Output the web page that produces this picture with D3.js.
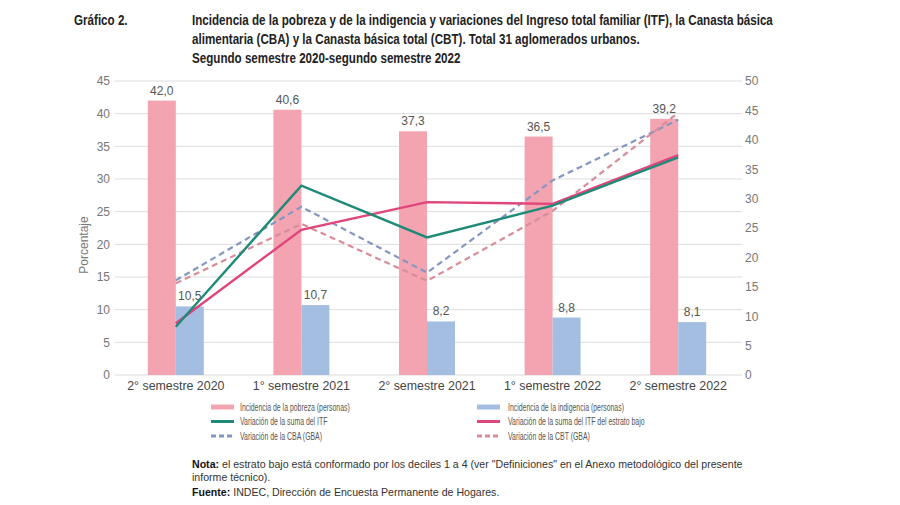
<!DOCTYPE html>
<html><head><meta charset="utf-8">
<script src="https://cdn.jsdelivr.net/npm/d3@7"></script>
<style>
body{margin:0;background:#fff;}
svg{display:block;}
</style></head>
<body>
<svg id="c" width="900" height="505"></svg>
<script>
const categories = ["2° semestre 2020","1° semestre 2021","2° semestre 2021","1° semestre 2022","2° semestre 2022"];
const pobreza = [42.0, 40.6, 37.3, 36.5, 39.2];
const indigencia = [10.5, 10.7, 8.2, 8.8, 8.1];
const varITF = [8.2, 32.2, 23.4, 28.8, 37.0];
const varITFbajo = [8.8, 24.7, 29.4, 29.1, 37.4];
const varCBA = [16.1, 28.6, 17.4, 33.1, 43.4];
const varCBT = [15.6, 25.7, 16.0, 27.9, 44.6];
const leftTicks = [0,5,10,15,20,25,30,35,40,45];
const rightTicks = [0,5,10,15,20,25,30,35,40,45,50];

const svg = d3.select("#c");
const fmt = v => v.toFixed(1).replace(".", ",");

const x = d3.scaleBand().domain(categories).range([113, 741]).padding(0);
const yL = d3.scaleLinear().domain([0,45]).range([375,81]);
const yR = d3.scaleLinear().domain([0,50]).range([375,81]);
const sub = d3.scaleBand().domain(["p","i"]).range([-28,28]);
const cx = c => x(c) + x.bandwidth()/2;

const sans = "'Liberation Sans',Arial,sans-serif";

// squeeze text horizontally so it spans a given width
function squeezed(parent, x0, y0, k) {
  return parent.append("text").attr("x",0).attr("y",0)
    .attr("transform", `translate(${x0},${y0}) scale(${k},1)`);
}

// Title
const title = svg.append("g").attr("font-family", sans).attr("font-weight","bold").attr("fill","#222").attr("font-size", 14);
const tl = ["Incidencia de la pobreza y de la indigencia y variaciones del Ingreso total familiar (ITF), la Canasta básica",
            "alimentaria (CBA) y la Canasta básica total (CBT). Total 31 aglomerados urbanos.",
            "Segundo semestre 2020-segundo semestre 2022"];
const t1 = title.append("text").attr("x",0).attr("y",0).text(tl[0]);
const kT = 581 / t1.node().getComputedTextLength();
t1.remove();
squeezed(title, 74, 25, kT).text("Gráfico 2.");
tl.forEach((t,i)=>squeezed(title, 192, 25+i*19, kT).text(t));

// Gridlines
svg.append("g").selectAll("line").data(leftTicks).join("line")
  .attr("x1",115).attr("x2",742).attr("y1",d=>yL(d)).attr("y2",d=>yL(d))
  .attr("stroke","#dcdcdc").attr("stroke-width",1);

// Left axis
const la = svg.append("g").attr("transform","translate(110,0)")
  .call(d3.axisLeft(yL).tickValues(leftTicks).tickSize(0).tickPadding(0));
la.select(".domain").remove();
la.selectAll("text").attr("font-family",sans).attr("font-size",12).attr("fill","#777");

// Right axis
const ra = svg.append("g").attr("transform","translate(745,0)")
  .call(d3.axisRight(yR).tickValues(rightTicks).tickSize(0).tickPadding(0));
ra.select(".domain").remove();
ra.selectAll("text").attr("font-family",sans).attr("font-size",12).attr("fill","#777");

svg.append("text").attr("transform","translate(88,245) rotate(-90)")
  .attr("text-anchor","middle").attr("font-family",sans).attr("font-size",12).attr("fill","#777").text("Porcentaje");

// Bars
const bars = svg.append("g");
bars.selectAll(".bp").data(categories).join("rect")
  .attr("x",(c)=>cx(c)+sub("p")).attr("width",sub.bandwidth())
  .attr("y",(c,i)=>yL(pobreza[i])).attr("height",(c,i)=>yL(0)-yL(pobreza[i]))
  .attr("fill","#f3a4b0");
bars.selectAll(".bi").data(categories).join("rect").attr("class","bi")
  .attr("x",(c)=>cx(c)+sub("i")).attr("width",sub.bandwidth())
  .attr("y",(c,i)=>yL(indigencia[i])).attr("height",(c,i)=>yL(0)-yL(indigencia[i]))
  .attr("fill","#a4bee2");

// Bar labels
const lab = svg.append("g").attr("font-family",sans).attr("font-size",12).attr("fill","#555").attr("text-anchor","middle");
categories.forEach((c,i)=>{
  lab.append("text").attr("x",cx(c)+sub("p")+sub.bandwidth()/2).attr("y",yL(pobreza[i])-6).text(fmt(pobreza[i]));
  lab.append("text").attr("x",cx(c)+sub("i")+sub.bandwidth()/2).attr("y",yL(indigencia[i])-6).text(fmt(indigencia[i]));
});

// Lines
const line = d3.line().x((d,i)=>cx(categories[i])).y(d=>yR(d));
const series = [
  {v:varCBA, c:"#8597bf", dash:"6,4", w:2.2},
  {v:varCBT, c:"#d98c9a", dash:"6,4", w:2.2},
  {v:varITFbajo, c:"#e0457b", dash:null, w:2.4},
  {v:varITF, c:"#1f8a78", dash:null, w:2.4},
];
series.forEach(s=>{
  svg.append("path").datum(s.v).attr("d",line).attr("fill","none")
    .attr("stroke",s.c).attr("stroke-width",s.w).attr("stroke-dasharray",s.dash);
});

// X labels
svg.append("g").selectAll("text").data(categories).join("text")
  .attr("x",c=>cx(c)).attr("y",390).attr("text-anchor","middle")
  .attr("font-family",sans).attr("font-size",12.4).attr("fill","#444").text(c=>c);

// Legend
const legend = [
  {t:"Incidencia de la pobreza (personas)", c:"#f3a4b0", w:5, dash:null, col:0, row:0},
  {t:"Incidencia de la indigencia (personas)", c:"#a4bee2", w:5, dash:null, col:1, row:0},
  {t:"Variación de la suma del ITF", c:"#1f8a78", w:3, dash:null, col:0, row:1},
  {t:"Variación de la suma del ITF del estrato bajo", c:"#e0457b", w:3, dash:null, col:1, row:1},
  {t:"Variación de la CBA (GBA)", c:"#8597bf", w:3, dash:"5,3", col:0, row:2},
  {t:"Variación de la CBT (GBA)", c:"#d98c9a", w:3, dash:"5,3", col:1, row:2},
];
const lg = svg.append("g").attr("font-family",sans).attr("font-size",10.5).attr("fill","#555");
const probe = lg.append("text").text(legend[0].t);
const kL = 110 / probe.node().getComputedTextLength();
probe.remove();
legend.forEach(d=>{
  const x0 = d.col===0 ? 211 : 477;
  const yy = 407 + d.row*14.5;
  lg.append("line").attr("x1",x0).attr("x2",x0+23).attr("y1",yy).attr("y2",yy)
    .attr("stroke",d.c).attr("stroke-width",d.w).attr("stroke-dasharray",d.dash);
  squeezed(lg, x0 + (d.col===0?29:31), yy+3.5, kL).text(d.t);
});

// Notes
const notes = svg.append("g").attr("font-family",sans).attr("font-size",10.6).attr("fill","#333");
const n1 = notes.append("text").attr("x",192).attr("y",468);
n1.append("tspan").attr("font-weight","bold").attr("fill","#111").text("Nota:");
n1.append("tspan").text(" el estrato bajo está conformado por los deciles 1 a 4 (ver \"Definiciones\" en el Anexo metodológico del presente");
notes.append("text").attr("x",192).attr("y",481).text("informe técnico).");
const n3 = notes.append("text").attr("x",192).attr("y",496);
n3.append("tspan").attr("font-weight","bold").attr("fill","#111").text("Fuente:");
n3.append("tspan").text(" INDEC, Dirección de Encuesta Permanente de Hogares.");
</script>
</body></html>
